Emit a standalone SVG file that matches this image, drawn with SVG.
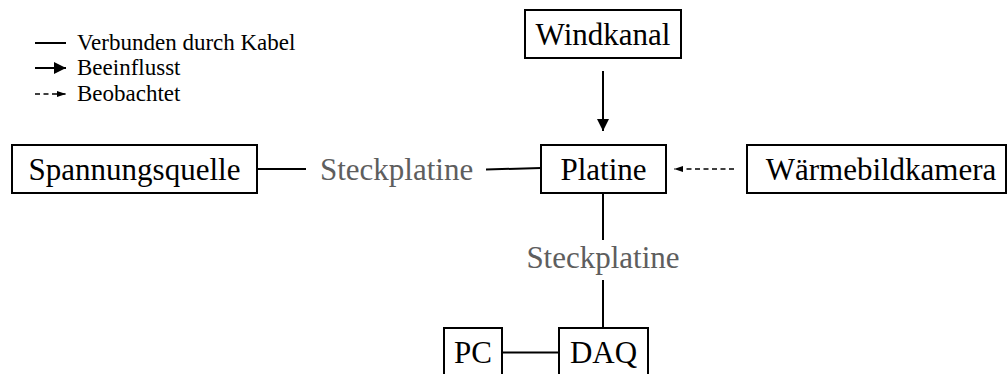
<svg xmlns="http://www.w3.org/2000/svg" width="1007" height="374" viewBox="0 0 1007 374">
<style>
text{font-family:'Liberation Serif',serif;fill:#000}
.lbl{font-size:31px}
.leg{font-size:23px}
.gray{fill:#5e5e5e;font-size:31px}
.box{fill:#fff;stroke:#000;stroke-width:2}
.ln{stroke:#000;stroke-width:2;fill:none}
.dash{stroke:#000;stroke-width:1.5;fill:none;stroke-dasharray:5 3.5}
</style>
<defs>
<marker id="ah" markerWidth="12" markerHeight="12" refX="12" refY="6" orient="auto" markerUnits="userSpaceOnUse"><path d="M0,0 L12,6 L0,12 Z" fill="#000"/></marker>
<marker id="ahs" markerWidth="9" markerHeight="6" refX="9" refY="3" orient="auto" markerUnits="userSpaceOnUse"><path d="M0,0 L9,3 L0,6 Z" fill="#000"/></marker>
</defs>
<g id="legend">
<line class="ln" x1="35" y1="43" x2="66" y2="43"/>
<text class="leg" x="77" y="50">Verbunden durch Kabel</text>
<line class="ln" x1="35" y1="68" x2="66" y2="68" marker-end="url(#ah)"/>
<text class="leg" x="77" y="75">Beeinflusst</text>
<line class="dash" x1="35" y1="94" x2="66" y2="94" marker-end="url(#ahs)"/>
<text class="leg" x="77" y="101">Beobachtet</text>
</g>
<g id="connectors">
<line class="ln" x1="603" y1="71" x2="603" y2="131" marker-end="url(#ah)"/>
<line class="dash" x1="734" y1="169" x2="674" y2="169" marker-end="url(#ahs)"/>
<line class="ln" x1="257" y1="169" x2="306" y2="169"/>
<line class="ln" x1="486" y1="169.5" x2="541" y2="168"/>
<line class="ln" x1="603" y1="193" x2="603" y2="240"/>
<line class="ln" x1="603" y1="280" x2="603" y2="328"/>
<line class="ln" x1="502" y1="352.5" x2="559" y2="352.5"/>
<text class="gray" x="320" y="180">Steckplatine</text>
<text class="gray" x="603" y="268" text-anchor="middle">Steckplatine</text>
</g>
<g id="windkanal">
<rect class="box" x="525" y="10" width="156" height="48"/>
<text class="lbl" x="603" y="44.5" text-anchor="middle">Windkanal</text>
</g>
<g id="platine">
<rect class="box" x="541" y="145" width="125" height="48"/>
<text class="lbl" x="603.5" y="180" text-anchor="middle">Platine</text>
</g>
<g id="spannungsquelle">
<rect class="box" x="12" y="145" width="245" height="48"/>
<text class="lbl" x="134.5" y="180" text-anchor="middle">Spannungsquelle</text>
</g>
<g id="waermebildkamera">
<rect class="box" x="747" y="145" width="259" height="48"/>
<text class="lbl" x="881" y="180" text-anchor="middle">Wärmebildkamera</text>
</g>
<g id="pc">
<rect class="box" x="444" y="328" width="58" height="48"/>
<text class="lbl" x="473" y="363" text-anchor="middle">PC</text>
</g>
<g id="daq">
<rect class="box" x="559" y="328" width="89" height="48"/>
<text class="lbl" x="603.5" y="363" text-anchor="middle">DAQ</text>
</g>
</svg>
